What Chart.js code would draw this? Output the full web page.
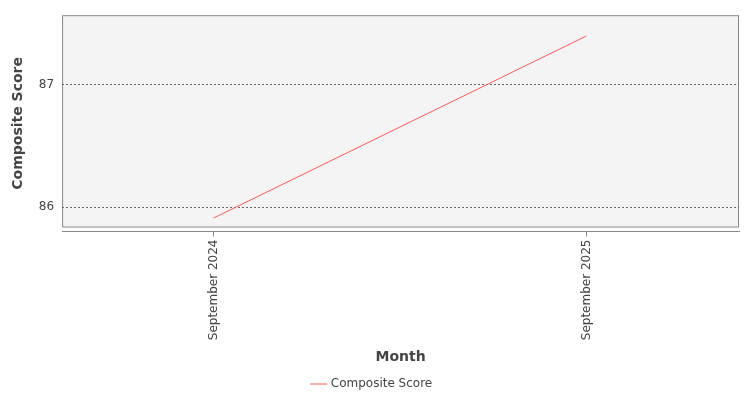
<!DOCTYPE html>
<html><head><meta charset="utf-8">
<script src="https://cdn.jsdelivr.net/npm/chart.js@4"></script>
<style>html,body{margin:0;padding:0;background:#fff}#w{width:750px;height:400px}</style>
</head><body><div id="w"><canvas id="c"></canvas></div>
<script>
const categories = ["September 2024", "September 2025"];
const compositeScore = [85.91, 87.40];
const yTicks = [86, 87];

const bg = {
  id: 'bg',
  beforeDraw(ch) {
    const a = ch.chartArea, x = ch.ctx;
    x.save();
    x.fillStyle = '#f4f4f4';
    x.fillRect(a.left, a.top, a.right - a.left, a.bottom - 5 - a.top);
    x.strokeStyle = '#888';
    x.lineWidth = 1;
    x.strokeRect(a.left + 0.5, a.top + 0.5, a.right - a.left - 1, a.bottom - 5 - a.top);
    x.restore();
  }
};

Chart.defaults.font.family = 'DejaVu Sans';
Chart.defaults.color = '#444';
new Chart(document.getElementById('c'), {
  type: 'line',
  data: {
    datasets: [{
      label: 'Composite Score',
      data: categories.map((c, i) => ({x: i, y: compositeScore[i]})),
      borderColor: '#ff5a5a', backgroundColor: '#ff5a5a',
      borderWidth: 1, pointRadius: 0, tension: 0
    }]
  },
  options: {
    responsive: true, maintainAspectRatio: false, animation: false,
    layout: {padding: {top: 1, right: 11, left: 6, bottom: 0}},
    plugins: {
      legend: {position: 'bottom', labels: {usePointStyle: true, pointStyle: 'line', boxWidth: 16, font: {size: 12}, color: '#444', padding: 8}},
      tooltip: {enabled: false}
    },
    scales: {
      x: {
        type: 'linear', min: -0.406, max: 1.409,
        afterBuildTicks(s) { s.ticks = categories.map((c, i) => ({value: i})); },
        ticks: {callback: v => categories[v], maxRotation: 90, minRotation: 90, font: {size: 12}, color: '#444'},
        grid: {drawOnChartArea: false, color: '#888', tickLength: 5},
        border: {color: '#888'},
        title: {display: true, text: 'Month', font: {size: 14, weight: 'bold'}, color: '#444', padding: {top: 6, bottom: 4}}
      },
      y: {
        min: 85.80, max: 87.57,
        afterBuildTicks(s) { s.ticks = yTicks.map(v => ({value: v})); },
        ticks: {font: {size: 12}, color: '#444', padding: 8},
        grid: {color: '#666', drawTicks: false, borderDash: [2, 2]},
        border: {display: false, dash: [2, 2]},
        title: {display: true, text: 'Composite Score', font: {size: 14, weight: 'bold'}, color: '#444'}
      }
    }
  },
  plugins: [bg]
});
</script></body></html>
